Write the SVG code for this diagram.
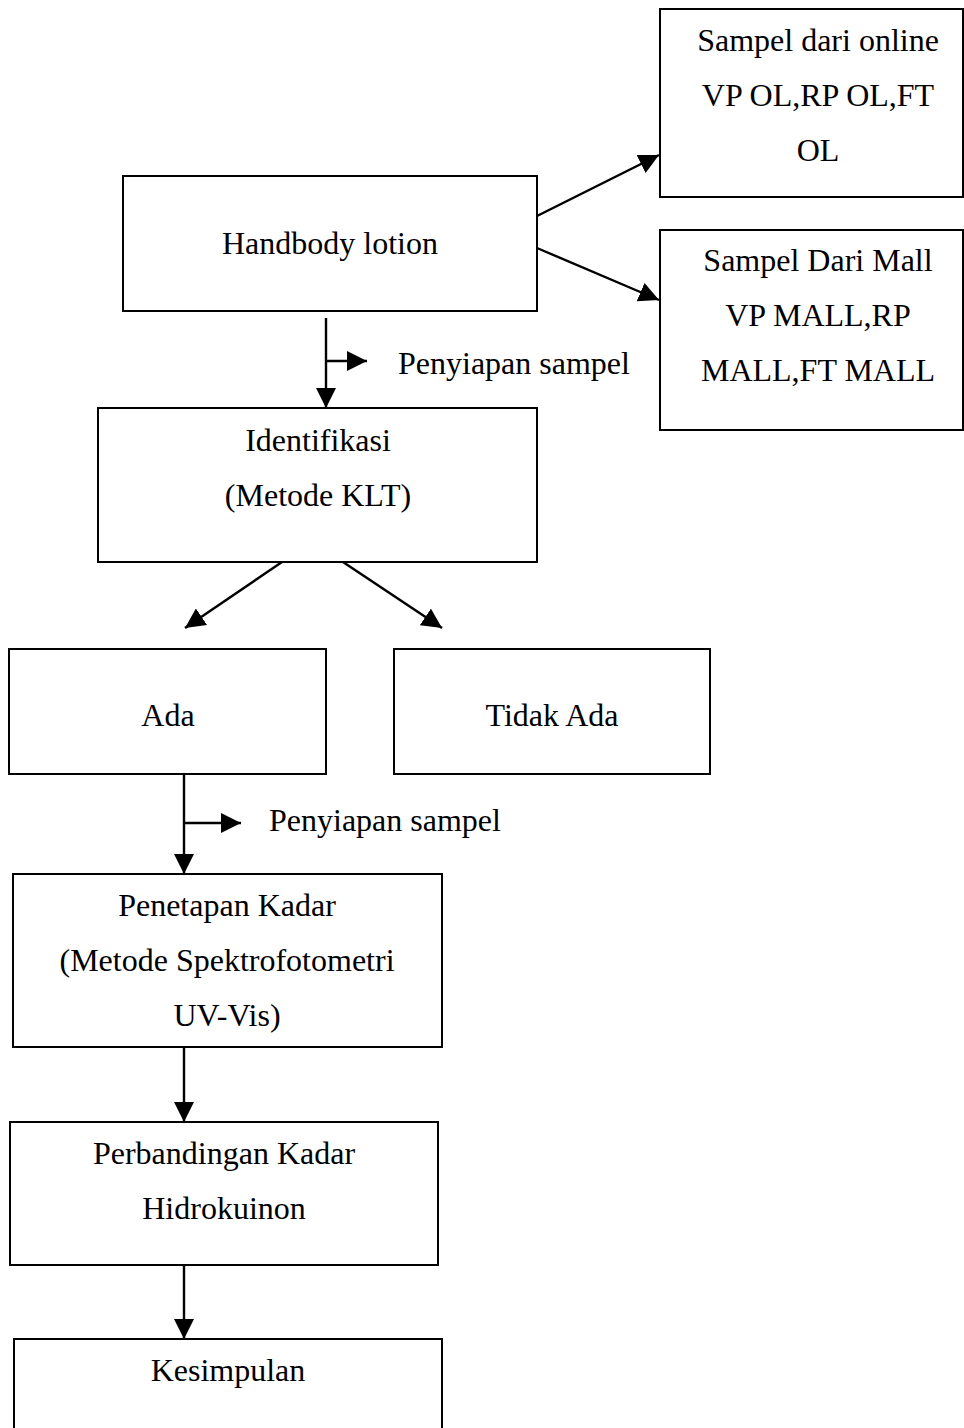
<svg xmlns="http://www.w3.org/2000/svg" width="964" height="1428" viewBox="0 0 964 1428">
<style>
rect{fill:#fff;stroke:#000;stroke-width:2}
text{font-family:"Liberation Serif","Times New Roman",serif;font-size:32px;fill:#000}
.c{text-anchor:middle}
.l{stroke:#000;stroke-width:2.4;fill:none}
</style>
<defs>
<marker id="ab" viewBox="0 0 10 10" refX="10" refY="5" markerWidth="20" markerHeight="20" markerUnits="userSpaceOnUse" orient="auto"><path d="M0,0 L10,5 L0,10 z" fill="#000"/></marker>
</defs>
<g id="connectors">
<line class="l" x1="537" y1="216" x2="659" y2="155" marker-end="url(#ab)"/>
<line class="l" x1="537" y1="248" x2="659" y2="300" marker-end="url(#ab)"/>
<line class="l" x1="326" y1="318" x2="326" y2="408" marker-end="url(#ab)"/>
<line class="l" x1="326" y1="361" x2="367" y2="361" marker-end="url(#ab)"/>
<line class="l" x1="282" y1="562" x2="185" y2="628" marker-end="url(#ab)"/>
<line class="l" x1="343" y1="562" x2="442" y2="628" marker-end="url(#ab)"/>
<line class="l" x1="184" y1="774" x2="184" y2="874" marker-end="url(#ab)"/>
<line class="l" x1="184" y1="823" x2="241" y2="823" marker-end="url(#ab)"/>
<line class="l" x1="184" y1="1047" x2="184" y2="1122" marker-end="url(#ab)"/>
<line class="l" x1="184" y1="1265" x2="184" y2="1339" marker-end="url(#ab)"/>
</g>
<g id="online"><rect x="660" y="9" width="303" height="188"/>
<text class="c" x="818" y="51">Sampel dari online</text>
<text class="c" x="818" y="106">VP OL,RP OL,FT</text>
<text class="c" x="818" y="161">OL</text></g>
<g id="mall"><rect x="660" y="230" width="303" height="200"/>
<text class="c" x="818" y="271">Sampel Dari Mall</text>
<text class="c" x="818" y="326">VP MALL,RP</text>
<text class="c" x="818" y="381">MALL,FT MALL</text></g>
<g id="handbody"><rect x="123" y="176" width="414" height="135"/>
<text class="c" x="330" y="254">Handbody lotion</text></g>
<g id="label1"><text x="398" y="374">Penyiapan sampel</text></g>
<g id="identifikasi"><rect x="98" y="408" width="439" height="154"/>
<text class="c" x="318" y="451">Identifikasi</text>
<text class="c" x="318" y="506">(Metode KLT)</text></g>
<g id="ada"><rect x="9" y="649" width="317" height="125"/>
<text class="c" x="168" y="726">Ada</text></g>
<g id="tidakada"><rect x="394" y="649" width="316" height="125"/>
<text class="c" x="552" y="726">Tidak Ada</text></g>
<g id="label2"><text x="269" y="831">Penyiapan sampel</text></g>
<g id="penetapan"><rect x="13" y="874" width="429" height="173"/>
<text class="c" x="227" y="916">Penetapan Kadar</text>
<text class="c" x="227" y="971">(Metode Spektrofotometri</text>
<text class="c" x="227" y="1026">UV-Vis)</text></g>
<g id="perbandingan"><rect x="10" y="1122" width="428" height="143"/>
<text class="c" x="224" y="1164">Perbandingan Kadar</text>
<text class="c" x="224" y="1219">Hidrokuinon</text></g>
<g id="kesimpulan"><rect x="14" y="1339" width="428" height="100"/>
<text class="c" x="228" y="1381">Kesimpulan</text></g>
</svg>
